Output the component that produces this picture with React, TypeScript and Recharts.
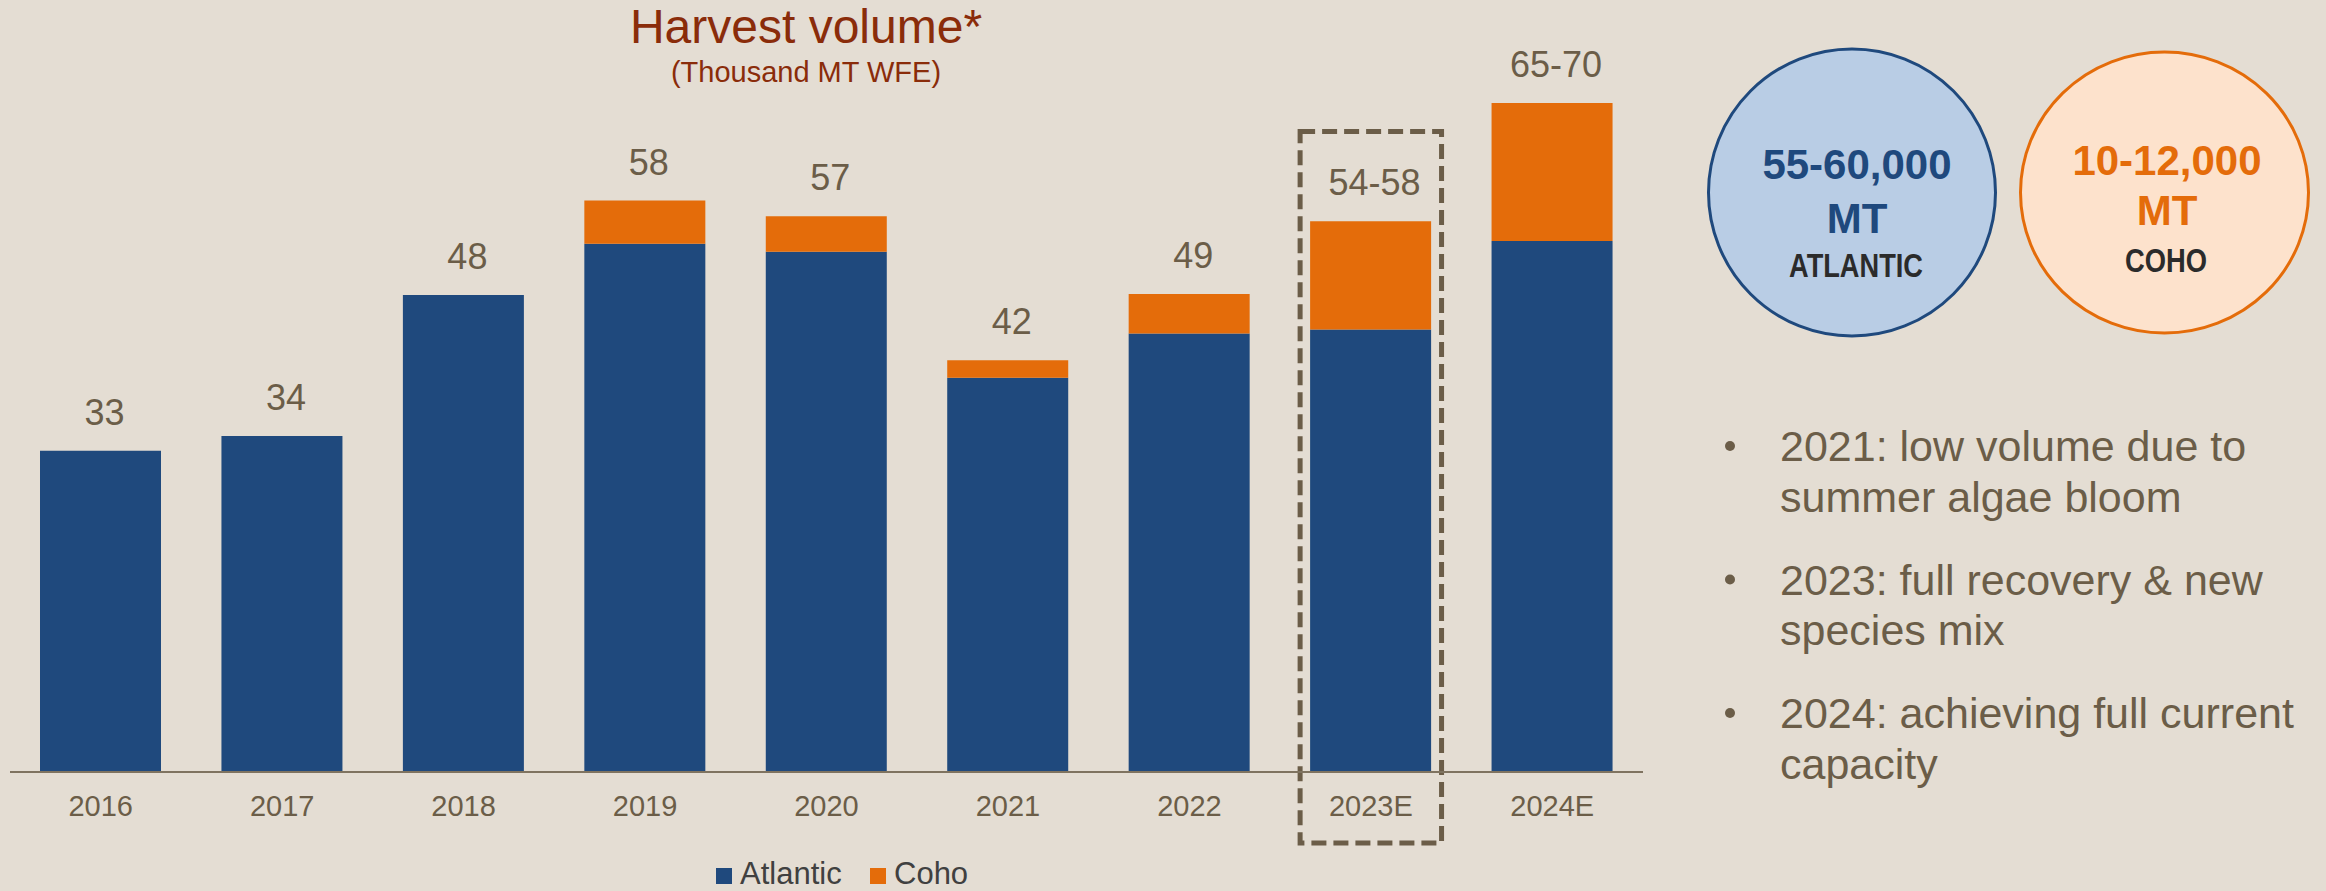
import React from 'react';
import { BarChart, Bar, XAxis, YAxis, LabelList, Legend, ReferenceArea } from 'recharts';

const categories = ['2016', '2017', '2018', '2019', '2020', '2021', '2022', '2023E', '2024E'];
const atlantic = [32.6, 34.1, 48.4, 53.6, 52.8, 40.0, 44.5, 44.9, 53.9];
const coho = [0, 0, 0, 4.4, 3.6, 1.8, 4.0, 11.0, 14.0];
const totalLabels = ['33', '34', '48', '58', '57', '42', '49', '54-58', '65-70'];
const seriesNames = ['Atlantic', 'Coho'];
const highlighted = '2023E';
const titleText = 'Harvest volume*';
const subtitleText = '(Thousand MT WFE)';
const atlanticTarget = ['55-60,000', 'MT', 'ATLANTIC'];
const cohoTarget = ['10-12,000', 'MT', 'COHO'];
const bullets = [
  ['2021: low volume due to', 'summer algae bloom'],
  ['2023: full recovery & new', 'species mix'],
  ['2024: achieving full current', 'capacity'],
];

const data = categories.map((c, i) => ({
  year: c,
  atlantic: atlantic[i],
  coho: coho[i],
  labelAtl: coho[i] > 0 ? '' : totalLabels[i],
  labelCoho: coho[i] > 0 ? totalLabels[i] : '',
}));

const BG = '#E4DDD3';
const BLUE = '#1F497D';
const ORANGE = '#E46C0A';
const BROWN = '#6B5D48';
const FONT = "'Liberation Sans', Arial, sans-serif";

const TopLabel = (props: any) => {
  if (!props.value) return null;
  const x = Number(props.x);
  const y = Number(props.y);
  const w = Number(props.width);
  return (
    <text x={x + w / 2 + 4} y={y - 26} textAnchor="middle" fontSize={36} fill={BROWN} fontFamily={FONT}>
      {props.value}
    </text>
  );
};

const Tick = (props: any) => {
  const { x, y, payload } = props;
  return (
    <text x={Number(x)} y={Number(y) + 44} textAnchor="middle" fontSize={29} fill={BROWN} fontFamily={FONT}>
      {payload.value}
    </text>
  );
};

const LegendContent = () => (
  <svg width={300} height={40} style={{ overflow: 'visible' }}>
    <rect x={0} y={13} width={16} height={16} fill={BLUE} />
    <text x={24} y={29} fontSize={31} fill="#404040" fontFamily={FONT}>{seriesNames[0]}</text>
    <rect x={154} y={13} width={16} height={16} fill={ORANGE} />
    <text x={178} y={29} fontSize={31} fill="#404040" fontFamily={FONT}>{seriesNames[1]}</text>
  </svg>
);

const DashedBox = (props: any) => {
  const x = Number(props.x);
  const y = Number(props.y);
  const w = Number(props.width);
  const h = Number(props.height);
  return (
    <rect x={x + 20} y={y} width={w - 40} height={h} fill="none" stroke={BROWN} strokeWidth={5} strokeDasharray="15 7" />
  );
};

export default function App() {
  return (
    <div style={{ position: 'fixed', left: 0, top: 0, width: 2326, height: 891, background: BG, overflow: 'hidden' }}>
      <div style={{ position: 'absolute', left: 0, top: 0 }}>
        <BarChart
          width={1660}
          height={891}
          data={data}
          margin={{ top: 33, right: 17, left: 10, bottom: 59 }}
          barSize={121}
        >
          <XAxis
            dataKey="year"
            interval={0}
            height={60}
            tickLine={false}
            tickSize={0}
            tickMargin={0}
            axisLine={{ stroke: '#7F7360', strokeWidth: 2 }}
            tick={<Tick />}
          />
          <YAxis hide domain={[0, 75]} />
          <Bar dataKey="atlantic" name={seriesNames[0]} stackId="a" fill={BLUE} isAnimationActive={false}>
            <LabelList dataKey="labelAtl" content={<TopLabel />} />
          </Bar>
          <Bar dataKey="coho" name={seriesNames[1]} stackId="a" fill={ORANGE} isAnimationActive={false}>
            <LabelList dataKey="labelCoho" content={<TopLabel />} />
          </Bar>
          <ReferenceArea
            x1={highlighted}
            x2={highlighted}
            y1={-7.2}
            y2={65}
            ifOverflow="visible"
            shape={<DashedBox />}
          />
          <Legend
            layout="horizontal"
            verticalAlign="middle"
            align="center"
            content={<LegendContent />}
            wrapperStyle={{ position: 'absolute', left: 716, top: 855, width: 300, height: 36 }}
          />
        </BarChart>
      </div>
      <svg width={2326} height={891} style={{ position: 'absolute', left: 0, top: 0, pointerEvents: 'none' }}>
        <text x={806} y={43} textAnchor="middle" fontSize={48} fill="#8A2C0A" fontFamily={FONT}>{titleText}</text>
        <text x={806} y={82} textAnchor="middle" fontSize={29} fill="#8A2C0A" fontFamily={FONT}>{subtitleText}</text>

        <ellipse cx={1852} cy={192.5} rx={143.5} ry={143.5} fill="#B9CDE5" stroke={BLUE} strokeWidth={3} />
        <text x={1857} y={179} textAnchor="middle" fontSize={42} fontWeight="bold" fill={BLUE} fontFamily={FONT}>{atlanticTarget[0]}</text>
        <text x={1857} y={233} textAnchor="middle" fontSize={42} fontWeight="bold" fill={BLUE} fontFamily={FONT}>{atlanticTarget[1]}</text>
        <text x={1856} y={277} textAnchor="middle" fontSize={33} fontWeight="bold" fill="#2B2B2B" fontFamily={FONT} textLength={134} lengthAdjust="spacingAndGlyphs">{atlanticTarget[2]}</text>

        <ellipse cx={2164.5} cy={192.5} rx={144} ry={140.5} fill="#FDE2CC" stroke={ORANGE} strokeWidth={3} />
        <text x={2167} y={175} textAnchor="middle" fontSize={42} fontWeight="bold" fill={ORANGE} fontFamily={FONT}>{cohoTarget[0]}</text>
        <text x={2167} y={225} textAnchor="middle" fontSize={42} fontWeight="bold" fill={ORANGE} fontFamily={FONT}>{cohoTarget[1]}</text>
        <text x={2166} y={272} textAnchor="middle" fontSize={33} fontWeight="bold" fill="#2B2B2B" fontFamily={FONT} textLength={82} lengthAdjust="spacingAndGlyphs">{cohoTarget[2]}</text>

        {bullets.map((lines, i) => (
          <g key={i}>
            <circle cx={1730} cy={461 + i * 133.5 - 15} r={5} fill={BROWN} />
            {lines.map((ln, j) => (
              <text key={j} x={1780} y={461 + i * 133.5 + j * 50.5} fontSize={43} fill={BROWN} fontFamily={FONT}>{ln}</text>
            ))}
          </g>
        ))}
      </svg>
    </div>
  );
}
